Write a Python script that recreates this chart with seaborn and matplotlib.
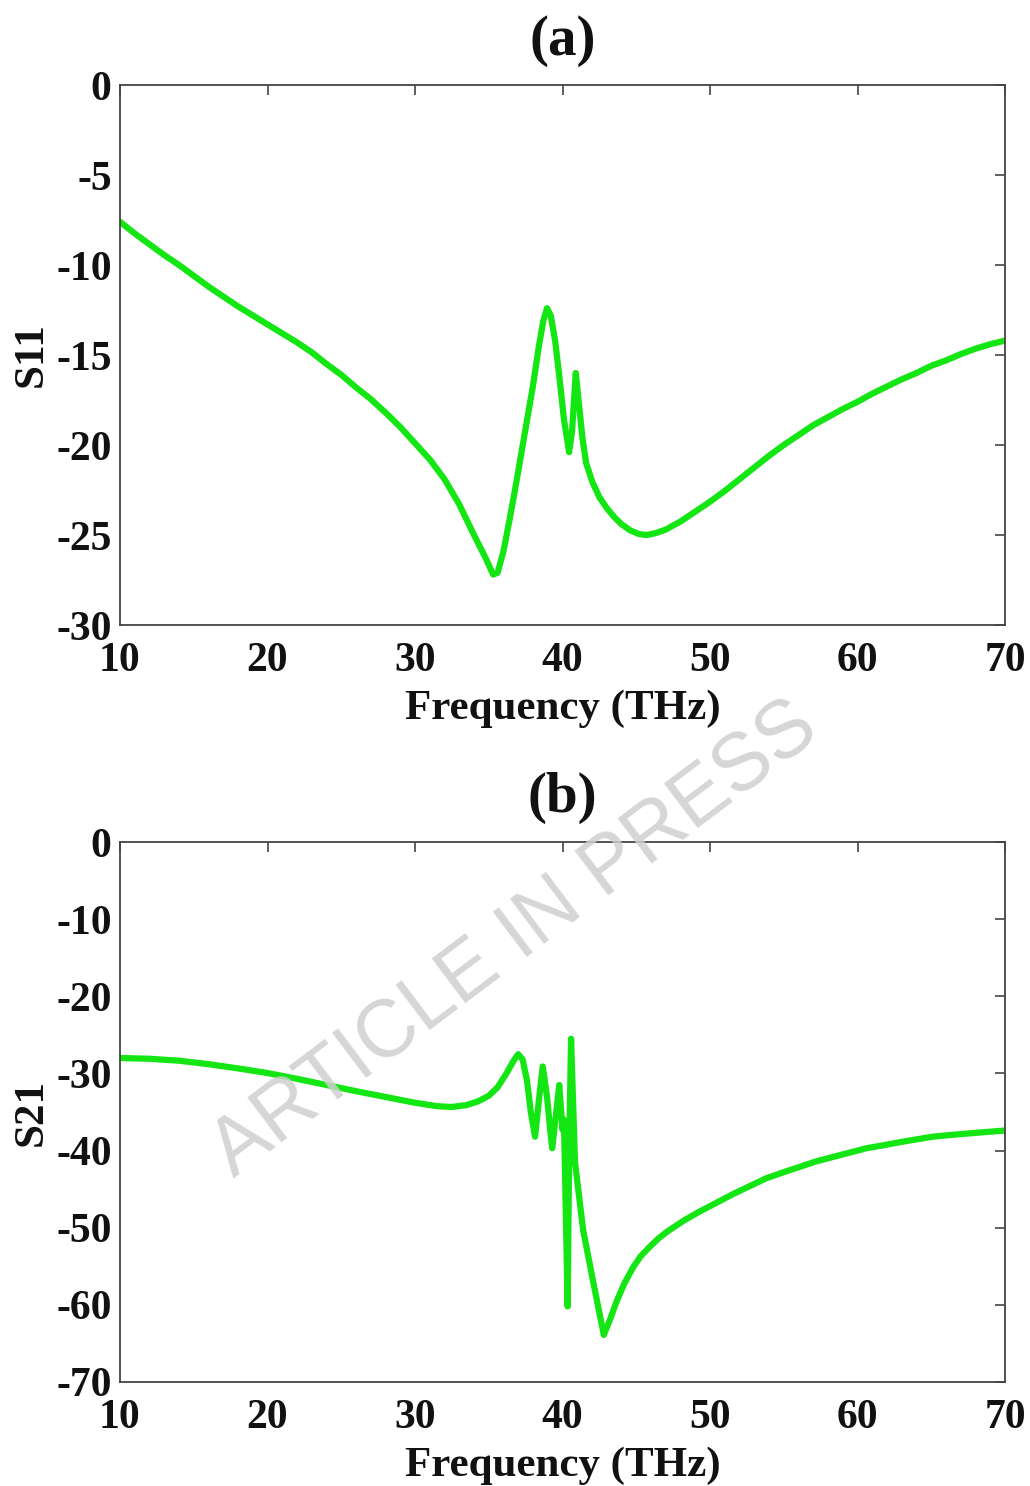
import numpy as np
import pandas as pd
import matplotlib
matplotlib.use("Agg")
import matplotlib.pyplot as plt
import seaborn as sns

# ---- data ----
freq_a = [10.0, 11.0, 12.0, 13.0, 14.0, 15.0, 16.0, 17.0, 18.0, 19.0, 20.0, 21.0, 22.0, 23.0,
          24.0, 25.0, 26.0, 27.0, 28.0, 29.0, 30.0, 31.0, 32.0, 33.0, 34.0, 34.8, 35.3, 35.6,
          36.0, 36.4, 36.8, 37.2, 37.6, 38.0, 38.4, 38.7, 38.95, 39.2, 39.5, 39.8, 40.1, 40.45,
          40.65, 40.9, 41.1, 41.35, 41.6, 42.0, 42.5, 43.0, 43.5, 44.0, 44.6, 45.2, 45.7, 46.3,
          47.0, 48.0, 49.0, 50.0, 51.0, 52.0, 53.0, 54.0, 55.0, 56.0, 57.0, 58.0, 59.0, 60.0,
          61.0, 62.0, 63.0, 64.0, 65.0, 66.0, 67.0, 68.0, 69.0, 70.0]
s11 = [-7.6, -8.25, -8.85, -9.45, -10.0, -10.6, -11.2, -11.75, -12.3, -12.8, -13.3, -13.8, -14.3, -14.85,
       -15.5, -16.1, -16.8, -17.45, -18.2, -19.0, -19.9, -20.8, -21.9, -23.3, -25.0, -26.3, -27.2, -27.1,
       -25.9, -24.2, -22.4, -20.5, -18.6, -16.7, -14.5, -13.1, -12.4, -12.8, -14.2, -16.3, -18.6, -20.4,
       -19.2, -16.0, -17.6, -19.6, -21.0, -22.0, -22.9, -23.5, -24.0, -24.4, -24.75, -24.95, -25.0, -24.9,
       -24.7, -24.25, -23.7, -23.15, -22.55, -21.9, -21.25, -20.6, -20.0, -19.45, -18.9, -18.45, -18.0, -17.6,
       -17.15, -16.75, -16.35, -16.0, -15.6, -15.3, -14.95, -14.65, -14.4, -14.2]

freq_b = [10.0, 12.0, 14.0, 16.0, 18.0, 20.0, 22.0, 24.0, 26.0, 28.0, 30.0, 31.5, 32.5, 33.5,
          34.3, 35.0, 35.6, 36.2, 36.7, 37.0, 37.3, 37.6, 37.85, 38.14, 38.4, 38.66, 38.95, 39.15,
          39.3, 39.55, 39.78, 40.0, 40.1, 40.35, 40.45, 40.58, 40.85, 41.4, 42.1, 42.8, 43.2, 43.7,
          44.2, 44.8, 45.3, 45.9, 46.5, 47.1, 48.2, 49.3, 50.4, 51.6, 52.7, 53.8, 55.0, 56.1,
          57.2, 58.4, 59.5, 60.6, 61.8, 62.9, 64.0, 65.1, 66.2, 67.4, 68.7, 70.0]
s21 = [-28.0, -28.1, -28.35, -28.8, -29.35, -29.95, -30.7, -31.5, -32.3, -33.05, -33.8, -34.25, -34.35, -34.1,
       -33.6, -32.9, -31.8, -30.0, -28.3, -27.5, -28.2, -31.0, -35.0, -38.2, -33.5, -29.1, -33.0, -37.0,
       -39.7, -35.5, -31.5, -37.3, -36.0, -60.2, -40.0, -25.5, -41.6, -50.3, -57.2, -63.9, -62.0, -59.4,
       -57.2, -55.1, -53.7, -52.5, -51.4, -50.5, -49.1, -47.9, -46.8, -45.6, -44.6, -43.6, -42.8, -42.1,
       -41.4, -40.8, -40.25, -39.7, -39.3, -38.9, -38.55, -38.2, -38.0, -37.8, -37.6, -37.4]

x_ticks = [10, 20, 30, 40, 50, 60, 70]
y_ticks_a = [0, -5, -10, -15, -20, -25, -30]
y_ticks_b = [0, -10, -20, -30, -40, -50, -60, -70]
titles = ["(a)", "(b)"]
ylabels = ["S11", "S21"]
xlabel = "Frequency (THz)"
watermark = "ARTICLE IN PRESS"

# ---- style ----
sns.set_style("white")
plt.rcParams["font.family"] = ["Liberation Serif", "DejaVu Serif"]
plt.rcParams["font.weight"] = "bold"
plt.rcParams["axes.unicode_minus"] = False

fig = plt.figure(figsize=(10.30, 14.86), dpi=100)
W, H = 1030, 1486
line_color = "#14e614"

panels = [
    (freq_a, s11, y_ticks_a, (85, 625)),
    (freq_b, s21, y_ticks_b, (842, 1382)),
]
for i, (fx, fy, yt, (top, bot)) in enumerate(panels):
    ax = fig.add_axes([120 / W, 1 - bot / H, (1005 - 120) / W, (bot - top) / H])
    df = pd.DataFrame({"f": fx, "s": fy})
    sns.lineplot(data=df, x="f", y="s", ax=ax, sort=False, estimator=None,
                 color=line_color, linewidth=4.5)
    ax.set_xlim(10, 70)
    ax.set_ylim(min(yt), max(yt))
    ax.set_xticks(x_ticks)
    ax.set_yticks(yt)
    ax.tick_params(direction="in", length=7, width=1.2, top=True, right=True,
                   labelsize=30, colors="#444444")
    ax.tick_params(axis="x", pad=12)
    ax.tick_params(axis="y", pad=6)
    for lab in ax.get_xticklabels() + ax.get_yticklabels():
        lab.set_fontweight("bold")
        lab.set_color("#111111")
    for sp in ax.spines.values():
        sp.set_color("#444444")
        sp.set_linewidth(1.3)
        sp.set_visible(True)
    ax.set_xlabel(xlabel, fontsize=31, fontweight="bold", labelpad=7, color="#111111")
    ax.set_ylabel(ylabels[i], fontsize=31, fontweight="bold", labelpad=4, color="#111111")
    ax.set_title(titles[i], fontsize=41, fontweight="bold", pad=22, color="#111111")

fig.text(515 / W, 1 - 940 / H, watermark, rotation=37, ha="center", va="center",
         fontsize=58, color="#cfcfcf", alpha=0.85, fontweight="normal",
         family=["Liberation Sans", "DejaVu Sans"], zorder=0)

fig.savefig("out.png", dpi=100)
